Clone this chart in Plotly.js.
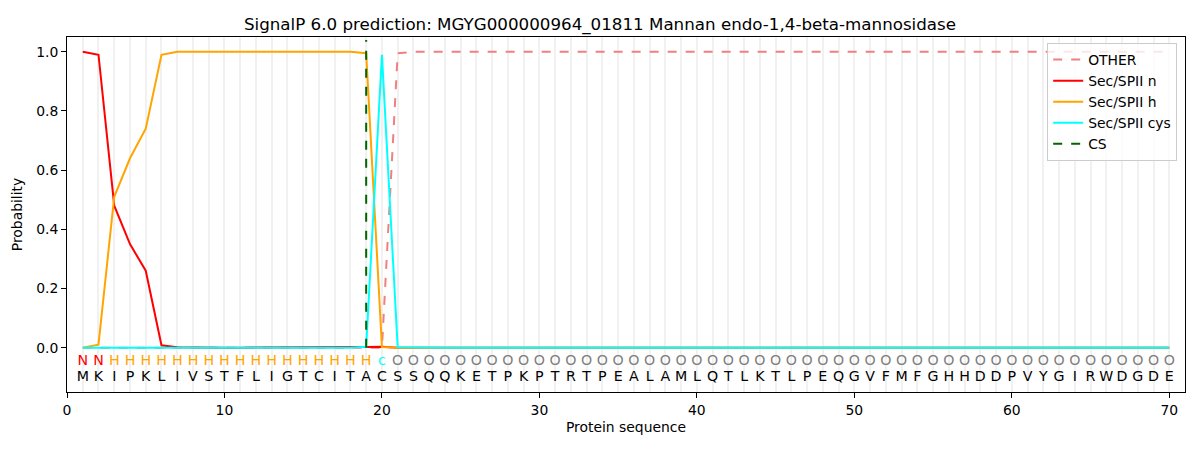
<!DOCTYPE html>
<html>
<head>
<meta charset="utf-8">
<script src="https://cdn.plot.ly/plotly-3.0.1.min.js"></script>
<style>body{margin:0;background:#fff;}#chart{width:1200px;height:450px;}</style>
</head>
<body>
<div id="chart"></div>
<script>
const sequence = ["M","K","I","P","K","L","I","V","S","T","F","L","I","G","T","C","I","T","A","C","S","S","Q","Q","K","E","T","P","K","P","T","R","T","P","E","A","L","A","M","L","Q","T","L","K","T","L","P","E","Q","G","V","F","M","F","G","H","H","D","D","P","V","Y","G","I","R","W","D","G","D","E"];
const regionLabels = ["N","N","H","H","H","H","H","H","H","H","H","H","H","H","H","H","H","H","H","c","O","O","O","O","O","O","O","O","O","O","O","O","O","O","O","O","O","O","O","O","O","O","O","O","O","O","O","O","O","O","O","O","O","O","O","O","O","O","O","O","O","O","O","O","O","O","O","O","O","O"];
const positions = sequence.map((_, i) => i + 1);

const otherProb = [0,0,0,0,0,0,0,0,0,0,0,0,0,0,0,0,0,0,0,0,0.995,1,1,1,1,1,1,1,1,1,1,1,1,1,1,1,1,1,1,1,1,1,1,1,1,1,1,1,1,1,1,1,1,1,1,1,1,1,1,1,1,1,1,1,1,1,1,1,1,1];
const secN = [1.0,0.99,0.48,0.35,0.26,0.008,0.001,0,0,0,0,0,0,0,0,0,0,0,0.002,0.003,0,0,0,0,0,0,0,0,0,0,0,0,0,0,0,0,0,0,0,0,0,0,0,0,0,0,0,0,0,0,0,0,0,0,0,0,0,0,0,0,0,0,0,0,0,0,0,0,0,0];
const secH = [0,0.01,0.51,0.64,0.74,0.99,1.0,1.0,1.0,1.0,1.0,1.0,1.0,1.0,1.0,1.0,1.0,1.0,0.995,0.002,0,0,0,0,0,0,0,0,0,0,0,0,0,0,0,0,0,0,0,0,0,0,0,0,0,0,0,0,0,0,0,0,0,0,0,0,0,0,0,0,0,0,0,0,0,0,0,0,0,0];
const secCys = [0,0,0,0,0,0,0,0,0,0,0,0,0,0,0,0,0,0,0.003,0.99,0.001,0,0,0,0,0,0,0,0,0,0,0,0,0,0,0,0,0,0,0,0,0,0,0,0,0,0,0,0,0,0,0,0,0,0,0,0,0,0,0,0,0,0,0,0,0,0,0,0,0,0,0];
const csPosition = 19;
const xTicks = [0,10,20,30,40,50,60,70];
const yTicks = [0,0.2,0.4,0.6,0.8,1.0];

const labelColors = {N:"red", H:"orange", c:"cyan", O:"gray"};
const font = "DejaVu Sans, sans-serif";

const traces = [
  {x: positions, y: otherProb, name: "OTHER", mode: "lines", line: {color: "#f08080", width: 2, dash: "dash"}},
  {x: positions, y: secN, name: "Sec/SPII n", mode: "lines", line: {color: "red", width: 2}},
  {x: positions, y: secH, name: "Sec/SPII h", mode: "lines", line: {color: "orange", width: 2}},
  {x: positions, y: secCys, name: "Sec/SPII cys", mode: "lines", line: {color: "cyan", width: 2}},
  {x: [csPosition, csPosition], y: [0, 1.04], name: "CS", mode: "lines", line: {color: "darkgreen", width: 2, dash: "dash"}},
  {x: positions, y: positions.map(() => -0.047), mode: "text", text: regionLabels, showlegend: false, hoverinfo: "skip",
   textfont: {family: font, size: 14.2, color: regionLabels.map(l => labelColors[l])}},
  {x: positions, y: positions.map(() => -0.1), mode: "text", text: sequence, showlegend: false, hoverinfo: "skip",
   textfont: {family: font, size: 14.2, color: "black"}}
];

const layout = {
  width: 1200, height: 450,
  margin: {l: 67, r: 15, t: 37, b: 58},
  paper_bgcolor: "white", plot_bgcolor: "white",
  font: {family: font, size: 13.9, color: "black"},
  title: {text: "SignalP 6.0 prediction: MGYG000000964_01811 Mannan endo-1,4-beta-mannosidase", font: {family: font, size: 16.7}, x: 0.5, xanchor: "center", y: 0.947, yanchor: "middle"},
  xaxis: {
    range: [0, 71], tickvals: xTicks, ticktext: xTicks.map(String),
    ticks: "outside", ticklen: 5, tickcolor: "black",
    showline: true, linecolor: "black", linewidth: 1, mirror: true,
    showgrid: false, zeroline: false,
    minor: {dtick: 1, tick0: 0, showgrid: true, gridcolor: "#f1f1f1", gridwidth: 2, ticks: ""},
    title: {text: "Protein sequence", font: {family: font, size: 13.9}, standoff: 5}
  },
  yaxis: {
    range: [-0.15, 1.05], tickvals: yTicks, ticktext: yTicks.map(v => v.toFixed(1)),
    ticks: "outside", ticklen: 5, tickcolor: "black",
    showline: true, linecolor: "black", linewidth: 1, mirror: true,
    showgrid: false, zeroline: false,
    title: {text: "Probability", font: {family: font, size: 13.9}, standoff: 10}
  },
  legend: {x: 0.993, y: 0.983, xanchor: "right", yanchor: "top", bgcolor: "rgba(255,255,255,0.8)", bordercolor: "#cccccc", borderwidth: 1, font: {family: font, size: 13.9}, tracegroupgap: 0},
  showlegend: true
};

Plotly.newPlot("chart", traces, layout, {displayModeBar: false, staticPlot: true});
</script>
</body>
</html>
